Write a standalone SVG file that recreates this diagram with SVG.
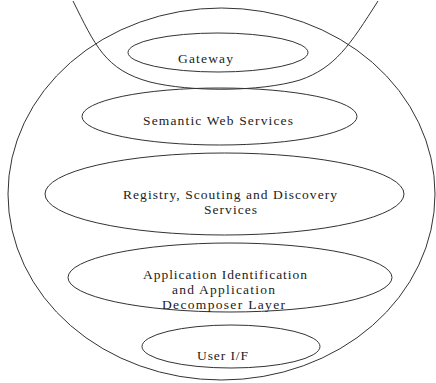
<svg xmlns="http://www.w3.org/2000/svg" width="436" height="383" viewBox="0 0 436 383">
<style>
.s{fill:none;stroke:#333;stroke-width:1}
.t{font-family:"Liberation Serif","Times New Roman",serif;font-size:13.5px;fill:#222;text-anchor:middle}
</style>
<rect width="436" height="383" fill="#fff"/>
<g id="shell">
<ellipse class="s" cx="221.5" cy="194" rx="213.5" ry="186"/>
<path class="s" d="M73,1 C95,45 105,70 150,82 C190,92 260,92 300,80 C335,68 350,45 378,1"/>
</g>
<g id="gateway">
<ellipse class="s" cx="218" cy="52.5" rx="90" ry="19.5"/>
<text class="t" x="205.5" y="63" textLength="55" lengthAdjust="spacing">Gateway</text>
</g>
<g id="semantic-web-services">
<ellipse class="s" cx="219.5" cy="116.5" rx="137.5" ry="28.5"/>
<text class="t" x="218" y="125" textLength="150" lengthAdjust="spacing">Semantic Web Services</text>
</g>
<g id="registry">
<ellipse class="s" cx="224.5" cy="194" rx="179.5" ry="41"/>
<text class="t" x="230" y="199" textLength="214" lengthAdjust="spacing">Registry, Scouting and Discovery</text>
<text class="t" x="230.5" y="214" textLength="53" lengthAdjust="spacing">Services</text>
</g>
<g id="application">
<ellipse class="s" cx="230" cy="277.5" rx="162" ry="34.5"/>
<text class="t" x="225" y="279" textLength="164" lengthAdjust="spacing">Application Identification</text>
<text class="t" x="223.5" y="294" textLength="103" lengthAdjust="spacing">and Application</text>
<text class="t" x="223.5" y="309" textLength="123" lengthAdjust="spacing">Decomposer Layer</text>
</g>
<g id="user-if">
<ellipse class="s" cx="231" cy="346.5" rx="89" ry="21.5"/>
<text class="t" x="222.5" y="360" textLength="51" lengthAdjust="spacing">User I/F</text>
</g>
<g id="connectors"></g>
</svg>
